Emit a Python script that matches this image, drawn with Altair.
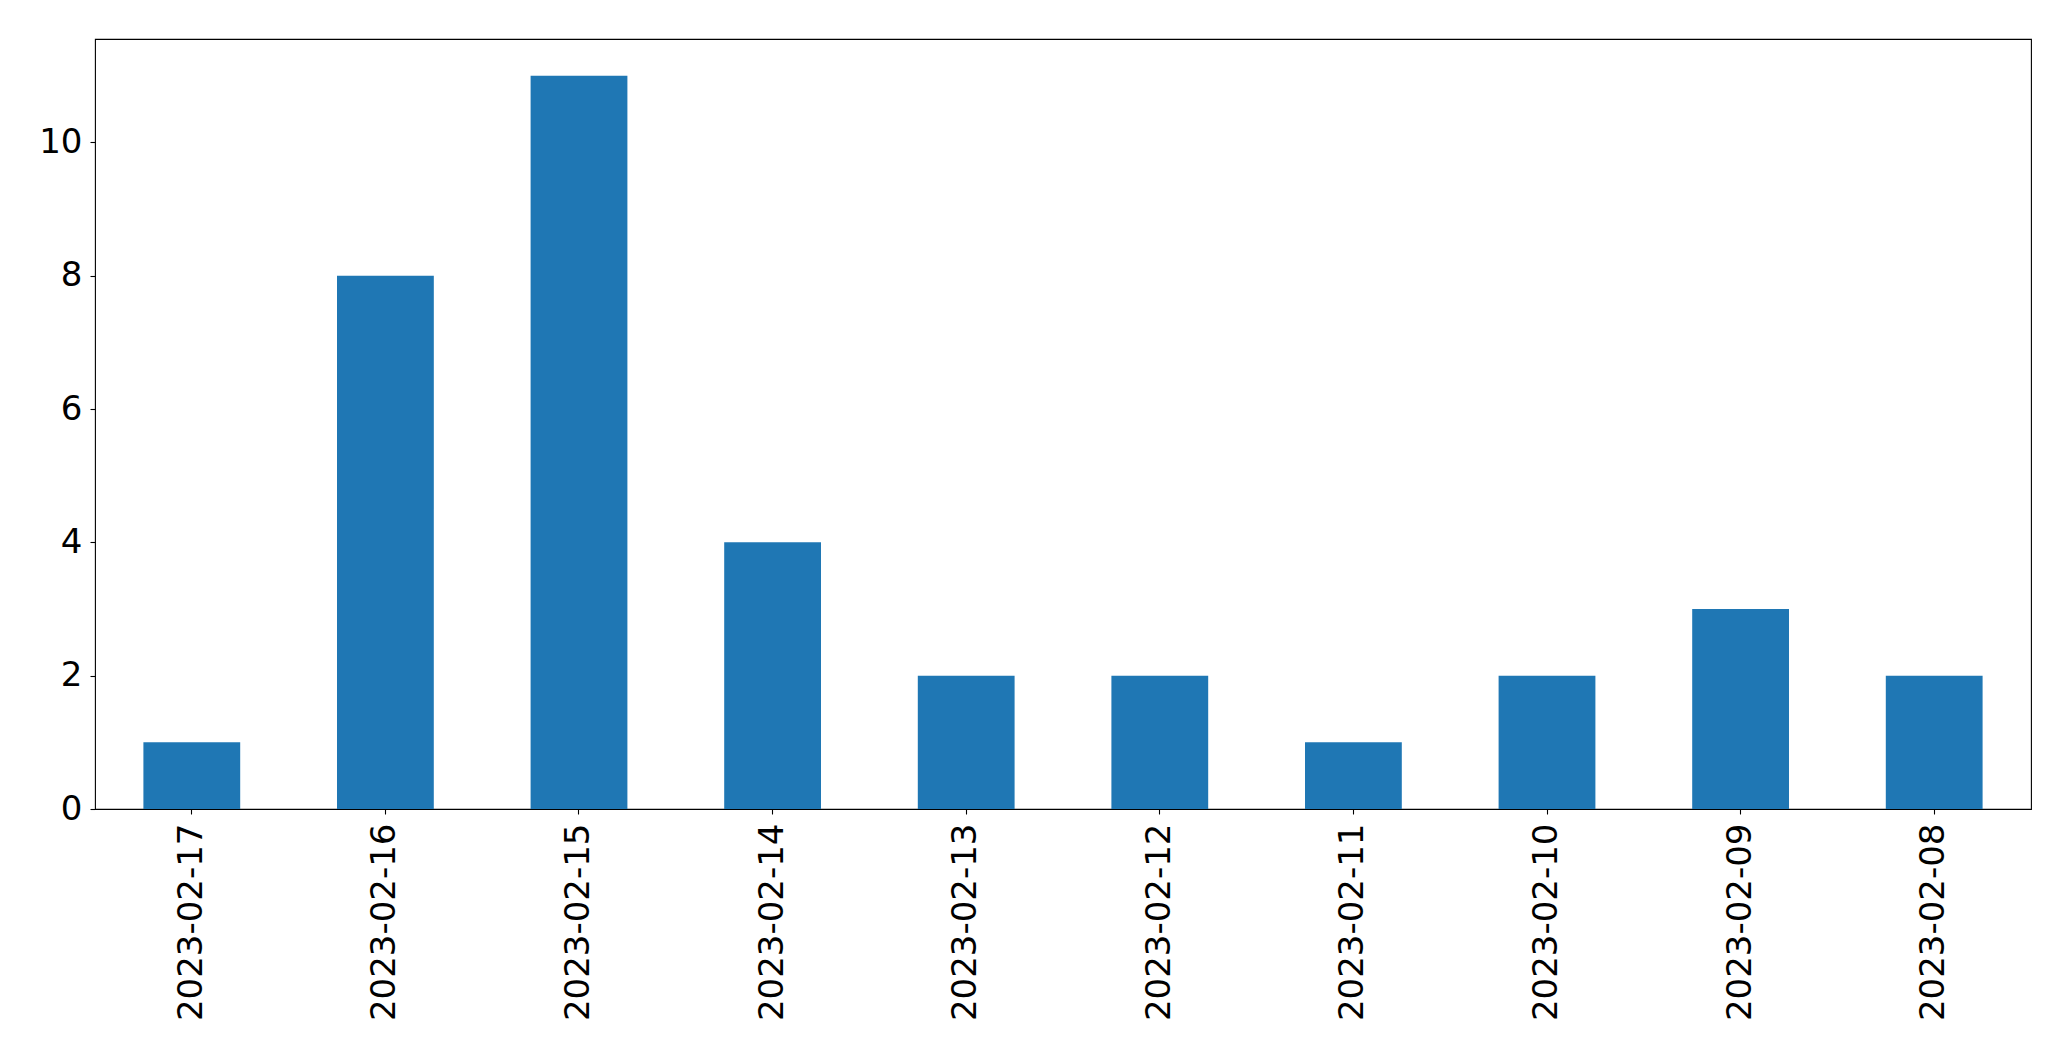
import altair as alt
import pandas as pd

dates = ["2023-02-17", "2023-02-16", "2023-02-15", "2023-02-14", "2023-02-13",
         "2023-02-12", "2023-02-11", "2023-02-10", "2023-02-09", "2023-02-08"]
counts = [1, 8, 11, 4, 2, 2, 1, 2, 3, 2]

df = pd.DataFrame({"date": dates, "count": counts})

chart = alt.Chart(df).mark_bar(color="#1f77b4").encode(
    x=alt.X("date:N", sort=None, title=None,
            scale=alt.Scale(paddingInner=0.5, paddingOuter=0.25),
            axis=alt.Axis(labelAngle=-90, labelFontSize=34, labelFont="DejaVu Sans",
                          labelColor="black", tickColor="black", tickSize=5,
                          tickWidth=1.1, labelPadding=9, domain=False,
                          labelOverlap=False, labelLimit=400)),
    y=alt.Y("count:Q", title=None,
            scale=alt.Scale(domain=[0, 11.55], nice=False, zero=True),
            axis=alt.Axis(values=[0, 2, 4, 6, 8, 10], labelFontSize=34,
                          labelFont="DejaVu Sans", labelColor="black",
                          tickColor="black", tickSize=5, tickWidth=1.1,
                          labelPadding=8, grid=False, domain=False)),
).properties(
    width=1936, height=770,
    autosize=alt.AutoSizeParams(type="none"),
    padding={"left": 87, "top": 31, "right": 10, "bottom": 230},
).configure_view(
    stroke="black", strokeWidth=1.1
)

chart.save("out.html", embed_options={"renderer": "svg", "actions": False})
